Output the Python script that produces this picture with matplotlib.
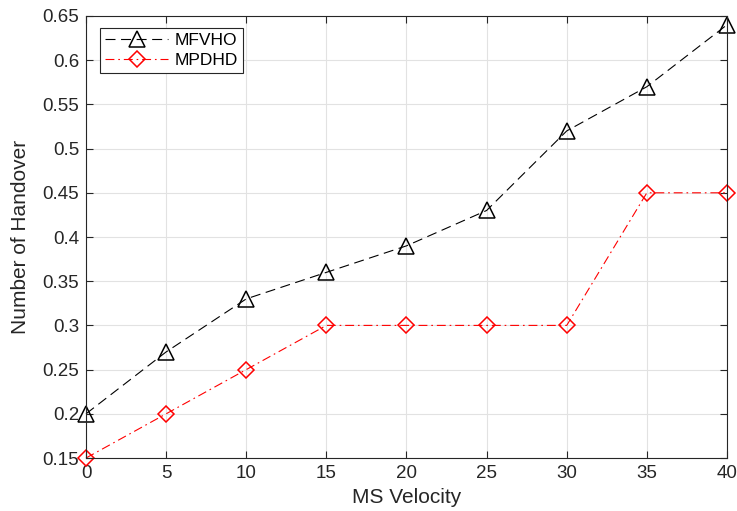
import matplotlib
matplotlib.use("Agg")
import matplotlib.pyplot as plt

velocity = [0, 5, 10, 15, 20, 25, 30, 35, 40]
mfvho = [0.20, 0.27, 0.33, 0.36, 0.39, 0.43, 0.52, 0.57, 0.64]
mpdhd = [0.15, 0.20, 0.25, 0.30, 0.30, 0.30, 0.30, 0.45, 0.45]
xticks = [0, 5, 10, 15, 20, 25, 30, 35, 40]
yticks = [0.15, 0.2, 0.25, 0.3, 0.35, 0.4, 0.45, 0.5, 0.55, 0.6, 0.65]
ytick_labels = ["0.15", "0.2", "0.25", "0.3", "0.35", "0.4", "0.45", "0.5", "0.55", "0.6", "0.65"]

plt.rcParams['font.family'] = ['Liberation Sans', 'DejaVu Sans']

fig = plt.figure(figsize=(7.37, 5.11), dpi=100)
ax = fig.add_axes([0.1167, 0.1037, 0.9864 - 0.1167, 0.9687 - 0.1037])

ax.plot(velocity, mfvho, color='black', linestyle=(0, (9, 5)), linewidth=0.8,
        marker='^', markersize=11, markerfacecolor='none', markeredgecolor='black',
        markeredgewidth=1.1, label='MFVHO', clip_on=False)
ax.plot(velocity, mpdhd, color='red', linestyle=(0, (8, 3.5, 1.5, 3.5)), linewidth=0.8,
        marker='D', markersize=8, markerfacecolor='none', markeredgecolor='red',
        markeredgewidth=1.1, label='MPDHD', clip_on=False)

ax.set_xlim(0, 40)
ax.set_ylim(0.15, 0.65)
ax.set_xticks(xticks)
ax.set_yticks(yticks)
ax.set_yticklabels(ytick_labels)
ax.grid(True, color='#e2e2e2', linewidth=0.8)
ax.set_axisbelow(True)
ax.tick_params(direction='in', top=True, right=True, labelsize=13.5, length=5,
               colors='#262626', pad=5)
for s in ax.spines.values():
    s.set_color('#262626')
    s.set_linewidth(0.8)

ax.set_xlabel('MS Velocity', fontsize=15, color='#262626', labelpad=4)
ax.set_ylabel('Number of Handover', fontsize=15, color='#262626', labelpad=9)

leg = ax.legend(loc='upper left', bbox_to_anchor=(0.022, 0.973), fontsize=12.5,
                handlelength=3.6, fancybox=False, framealpha=1, edgecolor='#262626',
                borderpad=0.3, labelspacing=0.25, handletextpad=0.4, borderaxespad=0)
leg.get_frame().set_linewidth(0.8)

fig.savefig('out.png', dpi=100)
